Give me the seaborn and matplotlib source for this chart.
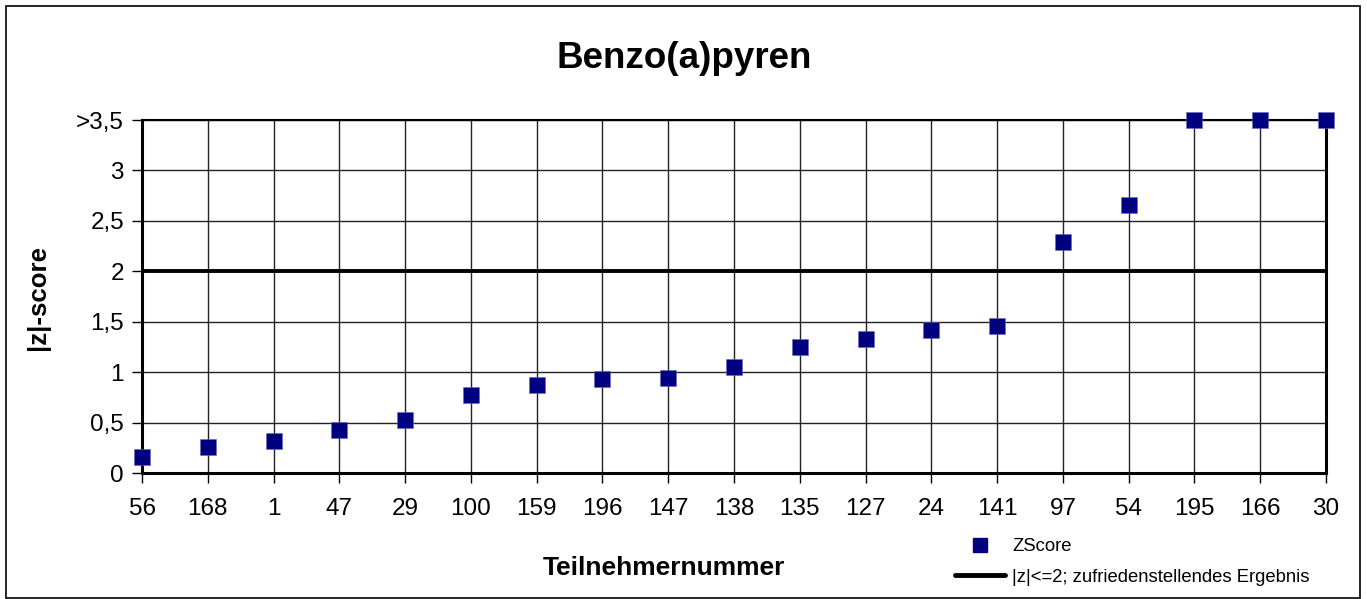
import matplotlib
matplotlib.use("Agg")
import matplotlib.pyplot as plt
import seaborn as sns
import pandas as pd
from matplotlib.lines import Line2D
from matplotlib.patches import Rectangle

participants = ["56", "168", "1", "47", "29", "100", "159", "196", "147", "138",
                "135", "127", "24", "141", "97", "54", "195", "166", "30"]
zscores = [0.16, 0.26, 0.32, 0.43, 0.53, 0.77, 0.87, 0.93, 0.94, 1.05,
           1.25, 1.33, 1.42, 1.46, 2.29, 2.66, 3.5, 3.5, 3.5]
ytick_values = [0, 0.5, 1, 1.5, 2, 2.5, 3, 3.5]
ytick_labels = ["0", "0,5", "1", "1,5", "2", "2,5", "3", ">3,5"]
threshold = 2
title = "Benzo(a)pyren"
xlabel = "Teilnehmernummer"
ylabel = "|z|-score"
series_label = "ZScore"
threshold_label = "|z|<=2; zufriedenstellendes Ergebnis"

sns.set_theme(style="white")
plt.rcParams["font.family"] = ["Liberation Sans", "DejaVu Sans"]
plt.rcParams["text.color"] = "black"
plt.rcParams["xtick.color"] = "black"
plt.rcParams["ytick.color"] = "black"
plt.rcParams["axes.labelcolor"] = "black"

W, H = 1367, 599
fig = plt.figure(figsize=(W / 100, H / 100), dpi=100)
ax = fig.add_axes([142 / W, 1 - 473 / H, (1326 - 142) / W, (473 - 120) / H])

df = pd.DataFrame({"Teilnehmer": participants, "z": zscores})
navy = "#000080"

ax.axhline(threshold, color="black", linewidth=2.8, zorder=2, solid_capstyle="butt")

sns.stripplot(data=df, x="Teilnehmer", y="z", order=participants, jitter=False,
              marker="s", s=11, color=navy, linewidth=0.4, edgecolor="#6a6ab8",
              ax=ax, zorder=5)
for c in ax.collections:
    c.set_clip_on(False)

# grid (after stripplot, which disables the categorical grid)
ax.set_axisbelow(True)
ax.xaxis.grid(True, color="#222222", linewidth=1.0)
ax.yaxis.grid(True, color="#222222", linewidth=1.0)

ax.set_xlim(0, len(participants) - 1)
ax.set_ylim(0, 3.5)
ax.set_yticks(ytick_values)
ax.set_yticklabels(ytick_labels)
ax.tick_params(axis="both", labelsize=17.5, colors="black", length=7, width=1,
               direction="out", left=True, bottom=True, pad=6)
ax.tick_params(axis="x", pad=11)
ax.set_xlabel("")
ax.set_ylabel("")

for side in ["left", "bottom", "right"]:
    ax.spines[side].set_visible(True)
    ax.spines[side].set_color("black")
    ax.spines[side].set_linewidth(2.2)
ax.spines["top"].set_visible(True)
ax.spines["top"].set_color("black")
ax.spines["top"].set_linewidth(1.5)

fig.text(684 / W, 1 - 58 / H, title, ha="center", va="center",
         fontsize=26.5, fontweight="bold", color="black")
fig.text(664 / W, 1 - 568 / H, xlabel, ha="center", va="center",
         fontsize=19, fontweight="bold", color="black")
fig.text(38 / W, 1 - 297 / H, ylabel, ha="center", va="center",
         fontsize=18.6, fontweight="bold", rotation=90, color="black")

handles = [
    Line2D([], [], linestyle="none", marker="s", markersize=10, color=navy),
    Line2D([], [], color="black", linewidth=3.5),
]
leg = fig.legend(handles, [series_label, threshold_label], loc="upper left",
                 bbox_to_anchor=(955 / W, 1 - 538 / H), frameon=False,
                 fontsize=13.3, handlelength=2.7, handletextpad=0.4,
                 labelspacing=0.75, borderpad=0, borderaxespad=0)
for t in leg.get_texts():
    t.set_color("black")

fig.patches.append(Rectangle((6 / W, 1 / H), (1360 - 6) / W, (H - 7) / H,
                             transform=fig.transFigure, fill=False,
                             edgecolor="black", linewidth=1.2))

fig.savefig("out.png", dpi=100)
